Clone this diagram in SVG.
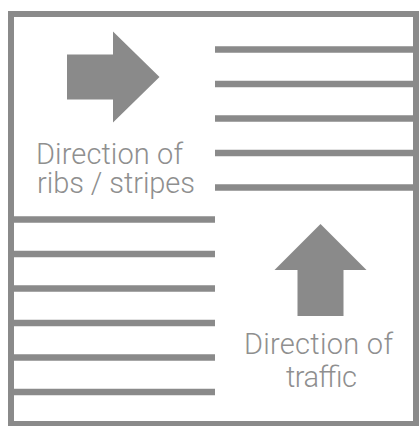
<svg xmlns="http://www.w3.org/2000/svg" width="419" height="426" viewBox="0 0 419 426">
<style>
.frame{fill:none;stroke:#8a8a8a;stroke-width:6}
.stripe{stroke:#8a8a8a;stroke-width:6.5;fill:none}
.arrow{fill:#8a8a8a}
.label{font-family:"Roboto","Liberation Sans",sans-serif;font-weight:300;font-size:29px;fill:#8f8f8f}
</style>
<rect width="419" height="426" fill="#ffffff"/>
<g id="frame"><rect class="frame" x="11" y="14" width="405" height="410"/></g>
<g id="connectors">
<g id="stripes-top">
<line class="stripe" x1="215" y1="49.5" x2="416" y2="49.5"/>
<line class="stripe" x1="215" y1="84" x2="416" y2="84"/>
<line class="stripe" x1="215" y1="118.5" x2="416" y2="118.5"/>
<line class="stripe" x1="215" y1="153" x2="416" y2="153"/>
<line class="stripe" x1="215" y1="187.5" x2="416" y2="187.5"/>
</g>
<g id="stripes-bottom">
<line class="stripe" x1="11" y1="219.5" x2="215" y2="219.5"/>
<line class="stripe" x1="11" y1="254" x2="215" y2="254"/>
<line class="stripe" x1="11" y1="288.5" x2="215" y2="288.5"/>
<line class="stripe" x1="11" y1="323" x2="215" y2="323"/>
<line class="stripe" x1="11" y1="357.5" x2="215" y2="357.5"/>
<line class="stripe" x1="11" y1="392" x2="215" y2="392"/>
</g>
</g>
<g id="node-ribs">
<polygon class="arrow" points="67,54.5 113,54.5 113,31.5 159.5,77 113,122.5 113,99.5 67,99.5"/>
<text class="label" x="36" y="164" textLength="147" lengthAdjust="spacing">Direction of</text>
<text class="label" x="37" y="193" textLength="158" lengthAdjust="spacing">ribs / stripes</text>
</g>
<g id="node-traffic">
<polygon class="arrow" points="297.5,316 297.5,270 274.5,270 320.5,224 366.5,270 343.5,270 343.5,316"/>
<text class="label" x="244" y="354" textLength="149" lengthAdjust="spacing">Direction of</text>
<text class="label" x="286" y="386.5" textLength="71" lengthAdjust="spacing">traffic</text>
</g>
</svg>
